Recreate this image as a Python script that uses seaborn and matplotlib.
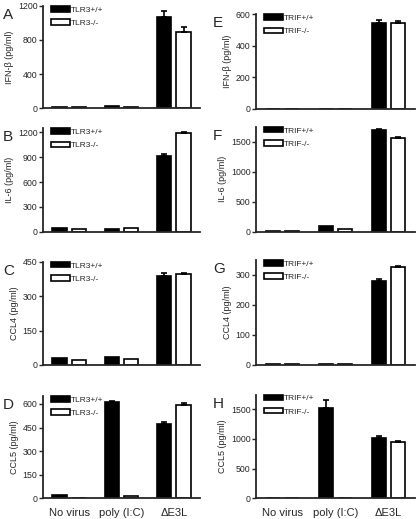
import numpy as np
import pandas as pd
import seaborn as sns
import matplotlib.pyplot as plt

sns.set_style("ticks")
plt.rcParams['font.family'] = ['Liberation Sans', 'DejaVu Sans']

conditions = ["No virus", "poly (I:C)", "\u0394E3L"]

# left column: TLR3
tlr3_groups = ["TLR3+/+", "TLR3-/-"]
ifnb_tlr3_wt = [15, 28, 1065]
ifnb_tlr3_ko = [12, 15, 895]
ifnb_tlr3_wt_err = [0, 0, 72]
ifnb_tlr3_ko_err = [0, 0, 58]

il6_tlr3_wt = [40, 30, 910]
il6_tlr3_ko = [30, 40, 1190]
il6_tlr3_wt_err = [0, 0, 30]
il6_tlr3_ko_err = [0, 0, 12]

ccl4_tlr3_wt = [29, 33, 389]
ccl4_tlr3_ko = [22, 28, 395]
ccl4_tlr3_wt_err = [0, 0, 13]
ccl4_tlr3_ko_err = [0, 0, 4]

ccl5_tlr3_wt = [21, 612, 470]
ccl5_tlr3_ko = [4, 15, 594]
ccl5_tlr3_wt_err = [0, 10, 14]
ccl5_tlr3_ko_err = [0, 0, 11]

# right column: TRIF
trif_groups = ["TRIF+/+", "TRIF-/-"]
ifnb_trif_wt = [0, 0, 545]
ifnb_trif_ko = [0, 0, 540]
ifnb_trif_wt_err = [0, 0, 20]
ifnb_trif_ko_err = [0, 0, 18]

il6_trif_wt = [12, 97, 1702]
il6_trif_ko = [5, 52, 1555]
il6_trif_wt_err = [0, 0, 12]
il6_trif_ko_err = [0, 0, 25]

ccl4_trif_wt = [2, 2, 281]
ccl4_trif_ko = [2, 2, 327]
ccl4_trif_wt_err = [0, 0, 6]
ccl4_trif_ko_err = [0, 0, 3]

ccl5_trif_wt = [0, 1530, 1020]
ccl5_trif_ko = [0, 0, 955]
ccl5_trif_wt_err = [0, 120, 30]
ccl5_trif_ko_err = [0, 0, 15]

panels = [
    ("A", "IFN-\u03b2 (pg/ml)", tlr3_groups, ifnb_tlr3_wt, ifnb_tlr3_ko, ifnb_tlr3_wt_err, ifnb_tlr3_ko_err, [0, 400, 800, 1200], 1200),
    ("B", "IL-6 (pg/ml)", tlr3_groups, il6_tlr3_wt, il6_tlr3_ko, il6_tlr3_wt_err, il6_tlr3_ko_err, [0, 300, 600, 900, 1200], 1250),
    ("C", "CCL4 (pg/ml)", tlr3_groups, ccl4_tlr3_wt, ccl4_tlr3_ko, ccl4_tlr3_wt_err, ccl4_tlr3_ko_err, [0, 150, 300, 450], 450),
    ("D", "CCL5 (pg/ml)", tlr3_groups, ccl5_tlr3_wt, ccl5_tlr3_ko, ccl5_tlr3_wt_err, ccl5_tlr3_ko_err, [0, 150, 300, 450, 600], 650),
    ("E", "IFN-\u03b2 (pg/ml)", trif_groups, ifnb_trif_wt, ifnb_trif_ko, ifnb_trif_wt_err, ifnb_trif_ko_err, [0, 200, 400, 600], 600),
    ("F", "IL-6 (pg/ml)", trif_groups, il6_trif_wt, il6_trif_ko, il6_trif_wt_err, il6_trif_ko_err, [0, 500, 1000, 1500], 1750),
    ("G", "CCL4 (pg/ml)", trif_groups, ccl4_trif_wt, ccl4_trif_ko, ccl4_trif_wt_err, ccl4_trif_ko_err, [0, 100, 200, 300], 350),
    ("H", "CCL5 (pg/ml)", trif_groups, ccl5_trif_wt, ccl5_trif_ko, ccl5_trif_wt_err, ccl5_trif_ko_err, [0, 500, 1000, 1500], 1750),
]

W, H = 416, 519
fig = plt.figure(figsize=(W / 100, H / 100), dpi=100)

# axes rectangles in pixels: (left, top, right, bottom)
rects = [
    (43, 5.7, 200, 108.3), (43, 128.2, 200, 231.7), (43, 261.7, 200, 365), (43, 396.1, 200, 498.3),
    (256, 14, 415, 109), (256, 126.7, 415, 231.7), (256, 260, 415, 365), (256, 394.5, 415, 498.3),
]

for i, (letter, ylab, groups, wt, ko, wt_err, ko_err, yticks, ytop) in enumerate(panels):
    l, t, r, b = rects[i]
    ax = fig.add_axes([l / W, 1 - b / H, (r - l) / W, (b - t) / H])
    df = pd.DataFrame({
        "condition": conditions * 2,
        "genotype": [groups[0]] * 3 + [groups[1]] * 3,
        "value": list(wt) + list(ko),
    })
    sns.barplot(data=df, x="condition", y="value", hue="genotype", order=conditions,
                hue_order=groups, palette=["black", "white"], edgecolor="black",
                linewidth=1.2, width=0.74, gap=0.27, errorbar=None, ax=ax)
    for cont, err in zip(ax.containers, [wt_err, ko_err]):
        xs = [p.get_x() + p.get_width() / 2 for p in cont]
        ys = [p.get_height() for p in cont]
        for x, y, e in zip(xs, ys, err):
            if e > 0:
                ax.errorbar(x, y, yerr=[[0], [e]], fmt="none", ecolor="black",
                            elinewidth=1.2, capsize=2.5, capthick=1.2)
    ax.set_xlim(-0.5, 2.5)
    ax.set_ylim(0, ytop)
    ax.set_yticks(yticks)
    ax.set_xlabel("")
    ax.set_ylabel(ylab, fontsize=6.5, labelpad=3)
    sns.despine(ax=ax)
    for s in ["left", "bottom"]:
        ax.spines[s].set_linewidth(1.3)
    ax.tick_params(axis="y", length=3, width=1, labelsize=6.3, pad=1)
    ax.tick_params(axis="x", length=0, labelsize=8, pad=7)
    if letter not in ("D", "H"):
        ax.set_xticklabels([])
    handles, labels = ax.get_legend_handles_labels()
    ax.legend(handles, labels, loc="upper left", bbox_to_anchor=(0.03, 1.03),
              frameon=False, fontsize=6, handlelength=2.3, handleheight=0.65,
              handletextpad=0.05, labelspacing=0.65, borderaxespad=0)
    lx = 3 if i < 4 else 213
    ax.text(lx / W, 1 - (t + 2) / H, letter, transform=fig.transFigure,
            fontsize=11, va="top", ha="left")

fig.savefig("out.png", dpi=100)
